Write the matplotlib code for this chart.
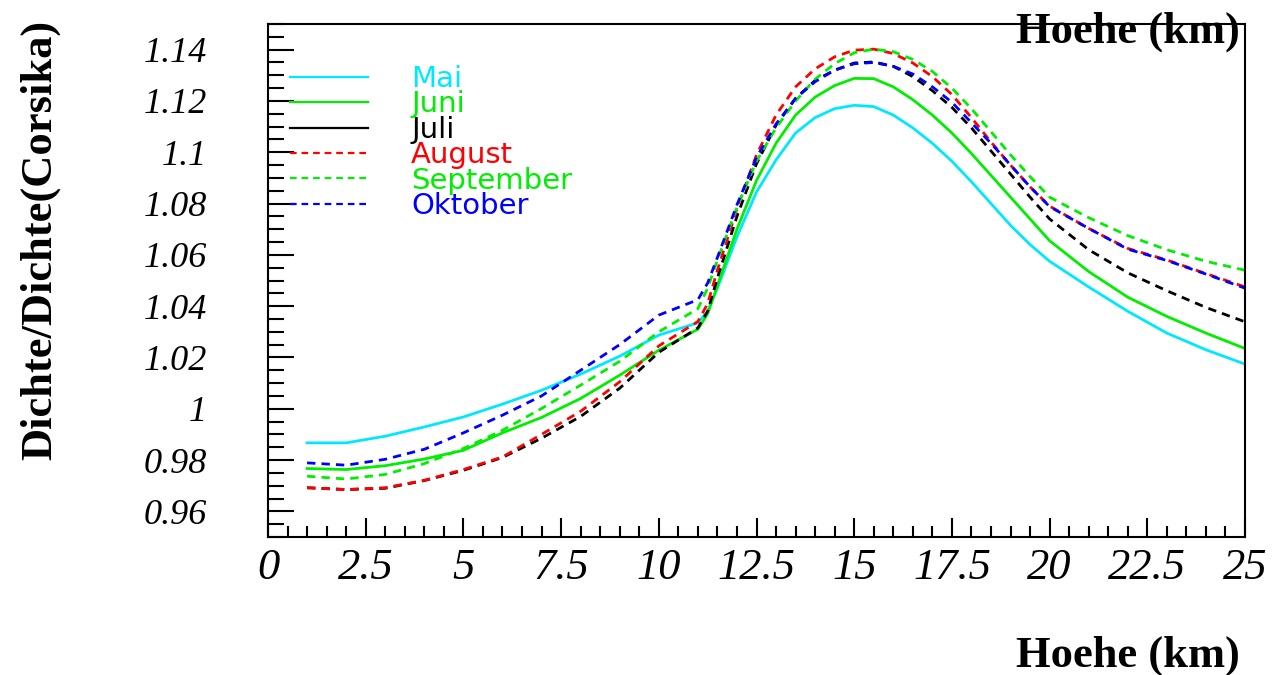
import matplotlib
matplotlib.use('Agg')
import matplotlib.pyplot as plt
from matplotlib.ticker import MultipleLocator, FuncFormatter

# Hoehe (km)
hoehe = [1, 2, 3, 4, 5, 6, 7, 8, 9, 10, 11, 11.25, 11.5, 12, 12.5, 13, 13.5, 14, 14.5,
         15, 15.5, 16, 16.5, 17, 17.5, 18, 18.5, 19, 19.5, 20, 21, 22, 23, 24, 25]

# Dichte/Dichte(Corsika) per month
mai = [0.9867, 0.9867, 0.9893, 0.9929, 0.9968, 1.0018, 1.0072, 1.0135, 1.0205, 1.0287, 1.0335,
       1.0380, 1.0470, 1.0670, 1.0845, 1.0970, 1.1075, 1.1135, 1.1170,
       1.1183, 1.1178, 1.1145, 1.1095, 1.1035, 1.0965, 1.0885, 1.0800, 1.0715, 1.0640,
       1.0575, 1.0475, 1.0380, 1.0295, 1.0230, 1.0174]
juni = [0.9767, 0.9763, 0.9778, 0.9804, 0.9838, 0.9906, 0.9966, 1.0040, 1.0131, 1.0228, 1.0310,
        1.0370, 1.0480, 1.0700, 1.0890, 1.1035, 1.1145, 1.1215, 1.1260,
        1.1288, 1.1287, 1.1255, 1.1205, 1.1145, 1.1075, 1.0995, 1.0910, 1.0825, 1.0740,
        1.0655, 1.0535, 1.0435, 1.0360, 1.0295, 1.0235]
juli = [0.9692, 0.9685, 0.9690, 0.9720, 0.9760, 0.9810, 0.9885, 0.9970, 1.0080, 1.0220, 1.0315,
        1.0380, 1.0510, 1.0750, 1.0955, 1.1105, 1.1210, 1.1280, 1.1320,
        1.1348, 1.1352, 1.1335, 1.1295, 1.1240, 1.1175, 1.1095, 1.1005, 1.0915, 1.0825,
        1.0740, 1.0620, 1.0530, 1.0460, 1.0395, 1.0339]
august = [0.9692, 0.9685, 0.9692, 0.9721, 0.9763, 0.9812, 0.9900, 0.9990, 1.0105, 1.0245, 1.0340,
          1.0410, 1.0540, 1.0780, 1.0990, 1.1145, 1.1255, 1.1325, 1.1372,
          1.1398, 1.1402, 1.1385, 1.1348, 1.1295, 1.1225, 1.1135, 1.1040, 1.0950, 1.0865,
          1.0790, 1.0703, 1.0625, 1.0580, 1.0527, 1.0475]
september = [0.9737, 0.9726, 0.9744, 0.9786, 0.9845, 0.9916, 1.0001, 1.0092, 1.0185, 1.0300, 1.0390,
             1.0470, 1.0580, 1.0785, 1.0965, 1.1095, 1.1200, 1.1285, 1.1345,
             1.1388, 1.1402, 1.1392, 1.1362, 1.1315, 1.1250, 1.1170, 1.1080, 1.0990, 1.0905,
             1.0825, 1.0745, 1.0675, 1.0620, 1.0575, 1.0540]
oktober = [0.9789, 0.9780, 0.9803, 0.9842, 0.9906, 0.9975, 1.0050, 1.0150, 1.0250, 1.0365, 1.0425,
           1.0490, 1.0590, 1.0795, 1.0980, 1.1110, 1.1210, 1.1275, 1.1320,
           1.1345, 1.1350, 1.1335, 1.1305, 1.1255, 1.1195, 1.1115, 1.1035, 1.0950, 1.0865,
           1.0788, 1.0703, 1.0622, 1.0578, 1.0525, 1.0470]

months = ['Mai', 'Juni', 'Juli', 'August', 'September', 'Oktober']
series = [mai, juni, juli, august, september, oktober]
colors = ['#00e8ff', '#00ee00', 'black', '#ff0000', '#00ee00', '#0000ff']
# Juli is drawn dashed in the plot but shown solid in the legend
styles = ['solid', 'solid', 'dashed', 'dashed', 'dashed', 'dashed']
legend_styles = ['solid', 'solid', 'solid', 'dashed', 'dashed', 'dashed']

fig = plt.figure(figsize=(12.82, 6.75), dpi=100)
ax = fig.add_axes([268 / 1282, 1 - 537 / 675, 977 / 1282, 513 / 675])

for name, vals, c, ls in zip(months, series, colors, styles):
    line, = ax.plot(hoehe, vals, color=c, lw=2.0, label=name)
    if ls == 'dashed':
        line.set_dashes((3.0, 2.2))

ax.set_xlim(0, 25)
ax.set_ylim(0.95, 1.15)

ax.xaxis.set_major_locator(MultipleLocator(2.5))
ax.xaxis.set_minor_locator(MultipleLocator(0.5))
ax.yaxis.set_major_locator(MultipleLocator(0.02))
ax.yaxis.set_minor_locator(MultipleLocator(0.005))
fmt = FuncFormatter(lambda v, pos: '%g' % round(v, 4))
ax.xaxis.set_major_formatter(fmt)
ax.yaxis.set_major_formatter(fmt)

ax.tick_params(axis='both', which='both', direction='in', top=False, right=False, width=1.5)
ax.tick_params(axis='y', which='major', length=19, pad=44)
ax.tick_params(axis='y', which='minor', length=11.5)
ax.tick_params(axis='x', which='major', length=13.5, pad=8)
ax.tick_params(axis='x', which='minor', length=8)
for lab in ax.get_yticklabels():
    lab.set_fontfamily('Liberation Serif')
    lab.set_fontstyle('italic')
    lab.set_fontsize(26)
for lab in ax.get_xticklabels():
    lab.set_fontfamily('Liberation Serif')
    lab.set_fontstyle('italic')
    lab.set_fontsize(32)

for sp in ax.spines.values():
    sp.set_linewidth(1.5)

leg = ax.legend(loc='upper left', bbox_to_anchor=(0.0225, 0.92), frameon=False,
                borderaxespad=0, borderpad=0, handlelength=2.67, handletextpad=1.48,
                labelspacing=-0.09, prop={'family': 'DejaVu Sans', 'size': 21},
                labelcolor='linecolor')
for hl, ls in zip(leg.get_lines(), legend_styles):
    hl.set_linewidth(1.6)
    if ls == 'solid':
        hl.set_linestyle('solid')

fig.text(1240 / 1282, 1 - 43 / 675, 'Hoehe (km)', ha='right', va='baseline',
         fontfamily='Liberation Serif', fontweight='bold', fontsize=32)
fig.text(1240 / 1282, 1 - 667 / 675, 'Hoehe (km)', ha='right', va='baseline',
         fontfamily='Liberation Serif', fontweight='bold', fontsize=32)
fig.text(40 / 1282, 1 - 240 / 675, 'Dichte/Dichte(Corsika)', rotation=90, ha='center', va='center',
         fontfamily='Liberation Serif', fontweight='bold', fontsize=32)

fig.savefig('out.png', dpi=100)
